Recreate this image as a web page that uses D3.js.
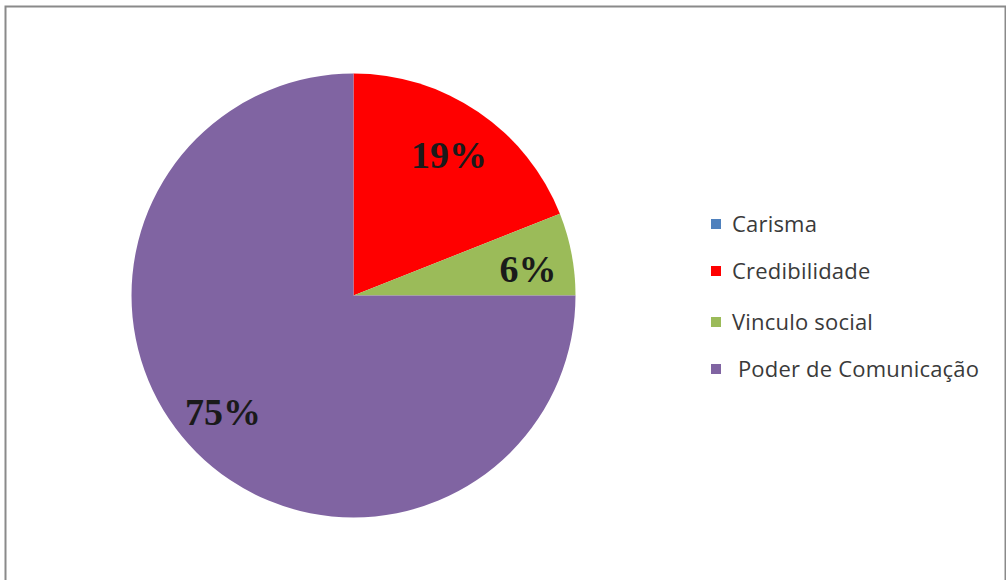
<!DOCTYPE html>
<html>
<head>
<meta charset="utf-8">
<script src="https://cdn.jsdelivr.net/npm/d3@7"></script>
<style>
  body { margin: 0; background: #fff; }
  svg { display: block; }
</style>
</head>
<body>
<div id="chart"></div>
<script>
// chart values
const categories = ["Carisma", "Credibilidade", "Vinculo social", " Poder de Comunicação"];
const values = [0, 19, 6, 75];
const labels = ["", "19%", "6%", "75%"];
const sliceColors = ["#4f81bd", "#ff0000", "#9bbb59", "#8064a2"];

const width = 1006, height = 580;
const cx = 353.5, cy = 295.5, radius = 222;

const svg = d3.select("#chart")
  .append("svg")
    .attr("width", width)
    .attr("height", height);

// outer frame
svg.append("rect")
  .attr("x", 5.5).attr("y", 6.5)
  .attr("width", 1000).attr("height", 580)
  .attr("fill", "#fff")
  .attr("stroke", "#8a8a8a")
  .attr("stroke-width", 2);

const pie = d3.pie().sort(null).value(d => d)(values);
const arc = d3.arc().innerRadius(0).outerRadius(radius);

const g = svg.append("g")
  .attr("transform", "translate(" + cx + "," + cy + ")");

g.selectAll("path")
  .data(pie)
  .enter().append("path")
    .attr("d", arc)
    .attr("fill", (d, i) => sliceColors[i]);

// percentage labels, placed along each slice's mid angle
const labelR = [0.7, 0.766, 0.8, 0.78];
const labelShift = [[0, 0], [0, 0], [0, 6], [-8, -6]];
g.selectAll("text.pct")
  .data(pie)
  .enter().append("text")
    .attr("class", "pct")
    .attr("transform", (d, i) => {
      const r = radius * labelR[i];
      const c = d3.arc().innerRadius(r).outerRadius(r).centroid(d);
      return "translate(" + (c[0] + labelShift[i][0]) + "," + (c[1] + labelShift[i][1]) + ")";
    })
    .attr("text-anchor", "middle")
    .attr("dy", "0.35em")
    .style("font-family", "'Liberation Serif', 'Times New Roman', serif")
    .style("font-weight", "bold")
    .style("font-size", "38px")
    .style("fill", "#1a1a1a")
    .text((d, i) => labels[i]);

// legend
const legend = svg.append("g")
  .attr("transform", "translate(711,224)");

const row = legend.selectAll("g")
  .data(categories)
  .enter().append("g")
    .attr("transform", (d, i) => "translate(0," + [0, 47, 98, 145][i] + ")");

row.append("rect")
  .attr("x", 0).attr("y", -5)
  .attr("width", 10).attr("height", 10)
  .attr("fill", (d, i) => sliceColors[i]);

row.append("text")
  .attr("x", 21)
  .attr("dy", "0.35em")
  .style("font-family", "'Open Sans', sans-serif")
  .style("font-size", "22px")
  .style("letter-spacing", "0.2px")
  .style("fill", "#3a3a3a")
  .style("white-space", "pre")
  .text(d => d);
</script>
</body>
</html>
